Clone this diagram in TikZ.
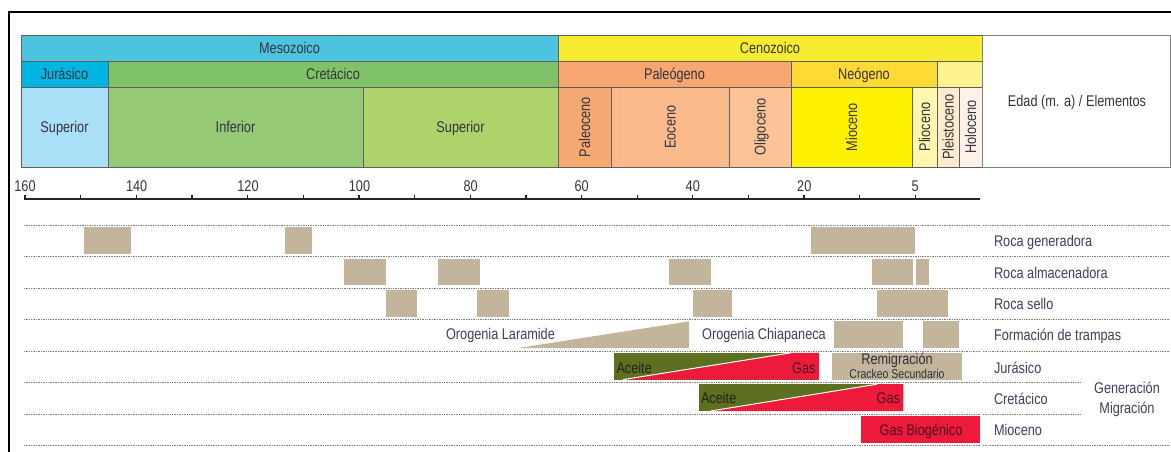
\documentclass[tikz,border=0pt]{standalone}
\usepackage{fontspec}
\setmainfont{Liberation Sans}[FakeStretch=0.82]

% palette
\definecolor{txt}{RGB}{52,52,62}
\definecolor{lbltxt}{RGB}{66,60,94}
\definecolor{edge}{RGB}{95,95,95}
\definecolor{meso}{RGB}{76,195,223}
\definecolor{jura}{RGB}{0,181,226}
\definecolor{jurasup}{RGB}{169,223,247}
\definecolor{creta}{RGB}{128,194,104}
\definecolor{cretinf}{RGB}{150,202,118}
\definecolor{cretsup}{RGB}{174,211,106}
\definecolor{ceno}{RGB}{247,236,48}
\definecolor{paleog}{RGB}{247,167,111}
\definecolor{paleoc}{RGB}{246,170,114}
\definecolor{eoc}{RGB}{251,186,139}
\definecolor{oligo}{RGB}{252,195,150}
\definecolor{neog}{RGB}{255,217,52}
\definecolor{quat}{RGB}{255,243,145}
\definecolor{mioc}{RGB}{255,242,0}
\definecolor{plioc}{RGB}{255,247,175}
\definecolor{pleist}{RGB}{254,236,204}
\definecolor{holoc}{RGB}{254,242,232}
\definecolor{tan}{RGB}{195,181,156}
\definecolor{oil}{RGB}{92,112,31}
\definecolor{gas}{RGB}{237,26,59}
\definecolor{gastxt}{RGB}{70,20,30}
\definecolor{oiltxt}{RGB}{35,35,20}
\definecolor{dotline}{RGB}{125,125,125}

% a box given by its corners: name, x1, y1, x2, y2, style, text
\newcommand{\boxcell}[7]{%
  \pgfmathsetmacro{\bxA}{(#2+#4)/2}%
  \pgfmathsetmacro{\bxB}{(#3+#5)/2}%
  \pgfmathsetmacro{\bxW}{#4-#2}%
  \pgfmathsetmacro{\bxH}{#5-#3}%
  \node[#6, minimum width=\bxW pt, minimum height=\bxH pt] (#1) at (\bxA,\bxB) {#7};}

\begin{document}
\begin{tikzpicture}[x=1pt,y=-1pt,
  every node/.style={font=\fontsize{15.5}{17}\selectfont, text=txt,
    inner sep=0pt, outer sep=0pt, text height=11pt, text depth=0pt},
  cellbox/.style={draw=edge, line width=0.7pt},
  tanbox/.style={fill=tan},
  gasbox/.style={fill=gas},
  rowlbl/.style={anchor=west, text=lbltxt},
  small/.style={font=\fontsize{12.8}{14}\selectfont, text height=9pt},
  dotrow/.style={dotline, line width=0.8pt, dash pattern=on 0.9pt off 0.8pt},
  axisline/.style={line width=1.8pt, black!85},
  frameline/.style={line width=2pt, black}
]
\useasboundingbox (0,0) rectangle (1171,452);

% ---- era / period / epoch header ----
\boxcell{mesozoico}{21}{35}{558}{61}{cellbox, fill=meso}{Mesozoico}
\boxcell{cenozoico}{558}{35}{982}{61}{cellbox, fill=ceno}{Cenozoico}
\boxcell{jurasico}{21}{61}{108}{87}{cellbox, fill=jura}{Jurásico}
\boxcell{cretacico}{108}{61}{558}{87}{cellbox, fill=creta}{Cretácico}
\boxcell{paleogeno}{558}{61}{791}{87}{cellbox, fill=paleog}{Paleógeno}
\boxcell{neogeno}{791}{61}{937}{87}{cellbox, fill=neog}{Neógeno}
\boxcell{cuaternario}{937}{61}{982}{87}{cellbox, fill=quat}{}
\boxcell{jursup}{21}{87}{108}{167}{cellbox, fill=jurasup}{Superior}
\boxcell{cretinf}{108}{87}{363}{167}{cellbox, fill=cretinf}{Inferior}
\boxcell{cretsup}{363}{87}{558}{167}{cellbox, fill=cretsup}{Superior}
\boxcell{paleoceno}{558}{87}{611}{167}{cellbox, fill=paleoc}{}
\boxcell{eoceno}{611}{87}{729}{167}{cellbox, fill=eoc}{}
\boxcell{oligoceno}{729}{87}{791}{167}{cellbox, fill=oligo}{}
\boxcell{mioceno}{791}{87}{912}{167}{cellbox, fill=mioc}{}
\boxcell{plioceno}{912}{87}{937}{167}{cellbox, fill=plioc}{}
\boxcell{pleistoceno}{937}{87}{959}{167}{cellbox, fill=pleist}{}
\boxcell{holoceno}{959}{87}{982}{167}{cellbox, fill=holoc}{}
\boxcell{edad}{982}{35}{1170}{167}{draw=edge!80, line width=0.7pt, fill=white}{}
\node[rotate=90] (tpaleoceno) at (paleoceno.center) {Paleoceno};
\node[rotate=90] (teoceno) at (eoceno.center) {Eoceno};
\node[rotate=90] (toligoceno) at (oligoceno.center) {Oligoceno};
\node[rotate=90] (tmioceno) at (mioceno.center) {Mioceno};
\node[rotate=90] (tplioceno) at (plioceno.center) {Plioceno};
\node[rotate=90] (tpleistoceno) at (pleistoceno.center) {Pleistoceno};
\node[rotate=90] (tholoceno) at (holoceno.center) {Holoceno};
\node (tedad) at (1077,101) {Edad (m. a) / Elementos};

% ---- age axis ----
\coordinate (axL) at (24,199);
\coordinate (axR) at (980,199);
\draw[axisline] (axL) -- (axR);
\foreach \k in {0,...,16} {
  \pgfmathsetmacro{\tx}{25+55.65*\k}
  \draw[line width=1.3pt, black!85] (\tx,195.3) -- (\tx,199);
}
\foreach \v/\xx in {160/25,140/136.7,120/248,100/359.5,80/470.6,60/581.7,40/692.8,20/804.3,5/915.2} {
  \node (age\v) at (\xx,186) {\v};
}

% ---- dotted row separators ----
\foreach \yy in {225.3,256.7,288.1,319.6,351.0,445.3} {
  \draw[dotrow] (24,\yy) -- (980,\yy);
  \draw[dotrow] (983,\yy) -- (1170,\yy);
}
\foreach \yy in {382.4,413.9} {
  \draw[dotrow] (24,\yy) -- (980,\yy);
  \draw[dotrow] (983,\yy) -- (1080,\yy);
}

% ---- Roca generadora ----
\boxcell{gen1}{84}{227.1}{130.6}{253.9}{tanbox}{}
\boxcell{gen2}{285}{227.1}{311.5}{253.9}{tanbox}{}
\boxcell{gen3}{810.7}{227.1}{914.7}{253.9}{tanbox}{}
% ---- Roca almacenadora ----
\boxcell{alm1}{343.5}{258.5}{385.5}{285.3}{tanbox}{}
\boxcell{alm2}{437.5}{258.5}{479.5}{285.3}{tanbox}{}
\boxcell{alm3}{669}{258.5}{711}{285.3}{tanbox}{}
\boxcell{alm4}{871.5}{258.5}{913}{285.3}{tanbox}{}
\boxcell{alm5}{916}{258.5}{929}{285.3}{tanbox}{}
% ---- Roca sello ----
\boxcell{sel1}{386}{289.9}{417}{316.8}{tanbox}{}
\boxcell{sel2}{477}{289.9}{509}{316.8}{tanbox}{}
\boxcell{sel3}{693}{289.9}{731.5}{316.8}{tanbox}{}
\boxcell{sel4}{876.7}{289.9}{948}{316.8}{tanbox}{}
% ---- Formación de trampas ----
\fill[tan] (517,348.2) -- (689,321.4) -- (689,348.2) -- cycle;
\node[text=lbltxt] (laramide) at (500.5,334) {Orogenia Laramide};
\node[text=lbltxt] (chiapaneca) at (764,334) {Orogenia Chiapaneca};
\boxcell{tra1}{834}{321.4}{902.7}{348.2}{tanbox}{}
\boxcell{tra2}{923}{321.4}{959}{348.2}{tanbox}{}

% ---- Generación / migración: Jurásico ----
\fill[oil] (614,352.8) rectangle (819,379.6);
\fill[gas] (623,379.6) -- (791,352.8) -- (819,352.8) -- (819,379.6) -- cycle;
\draw[white, line width=1pt] (623,379.6) -- (791,352.8);
\node[anchor=west, text=oiltxt] (acJ) at (616.5,367.5) {Aceite};
\node[anchor=east, text=gastxt] (gasJ) at (815.5,367.5) {Gas};
\boxcell{remig}{832.3}{352.8}{962.3}{379.6}{tanbox}{}
\node[text=txt!90!black] (tremig) at (897,359.3) {Remigración};
\node[small, text=txt!90!black] (tcrack) at (897,374) {Crackeo Secundario};

% ---- Generación / migración: Cretácico ----
\fill[oil] (698.7,384.2) rectangle (903.3,411.1);
\fill[gas] (710,411.1) -- (877,384.2) -- (903.3,384.2) -- (903.3,411.1) -- cycle;
\draw[white, line width=1pt] (710,411.1) -- (877,384.2);
\node[anchor=west, text=oiltxt] (acK) at (701,398) {Aceite};
\node[anchor=east, text=gastxt] (gasK) at (900,398) {Gas};

% ---- Generación / migración: Mioceno ----
\boxcell{biog}{861}{415.7}{980}{442.5}{gasbox}{}
\node[text=gastxt] (tbiog) at (921,429.5) {Gas Biogénico};

% ---- row labels ----
\node[rowlbl] (lgen) at (994,241) {Roca generadora};
\node[rowlbl] (lalm) at (994,272.5) {Roca almacenadora};
\node[rowlbl] (lsel) at (994,304) {Roca sello};
\node[rowlbl] (ltra) at (994,335) {Formación de trampas};
\node[rowlbl] (ljur) at (994,367.5) {Jurásico};
\node[rowlbl] (lcre) at (994,398.5) {Cretácico};
\node[rowlbl] (lmio) at (994,430) {Mioceno};
\node[text=lbltxt] (lgm1) at (1127,387.5) {Generación};
\node[text=lbltxt] (lgm2) at (1127,407.5) {Migración};

% ---- outer frame ----
\coordinate (frA) at (9,452);
\coordinate (frB) at (9,12);
\coordinate (frC) at (1171,12);
\draw[frameline] (frA) -- (frB) -- (frC);
\end{tikzpicture}
\end{document}
